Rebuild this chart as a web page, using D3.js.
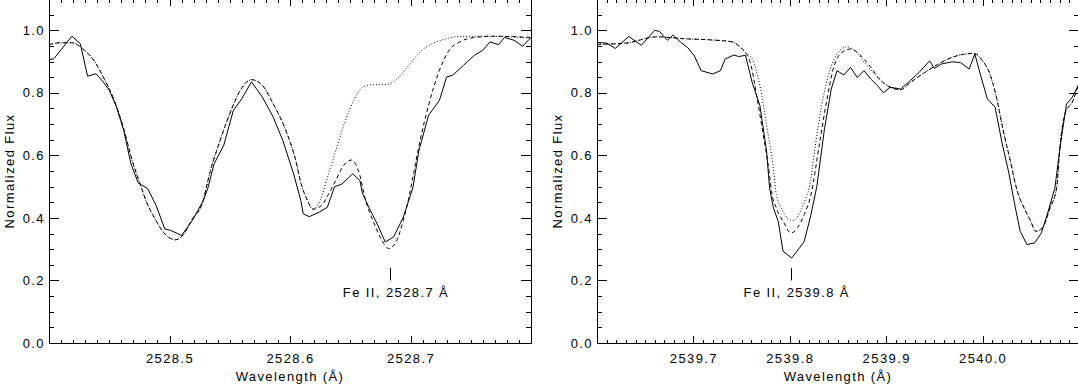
<!DOCTYPE html>
<html>
<head>
<meta charset="utf-8">
<script src="https://cdn.jsdelivr.net/npm/d3@7"></script>
<style>
  body { margin: 0; background: #fff; }
  svg text { font-family: "Liberation Sans", Arial, sans-serif; font-size: 13px; letter-spacing: 1.4px; fill: #000; }
  .axis line { stroke: #000; shape-rendering: crispEdges; }
</style>
</head>
<body>
<div id="chart"></div>
<script>
var svg_width = 1078,
    svg_height = 385,
    plot_top = -1,
    plot_bottom = 343

// observed spectrum (solid) and two model fits (dashed, dotted), [wavelength, flux]
var leftObserved = [
  [2528.400, 0.906], [2528.404, 0.909], [2528.419, 0.981], [2528.426, 0.957], [2528.432, 0.853],
  [2528.439, 0.861], [2528.445, 0.835], [2528.450, 0.808], [2528.456, 0.755], [2528.462, 0.680],
  [2528.468, 0.573], [2528.474, 0.512], [2528.482, 0.493], [2528.489, 0.439], [2528.496, 0.365],
  [2528.501, 0.360], [2528.510, 0.344], [2528.519, 0.392], [2528.528, 0.455], [2528.532, 0.497],
  [2528.537, 0.573], [2528.545, 0.632], [2528.553, 0.744], [2528.560, 0.781], [2528.568, 0.835],
  [2528.577, 0.787], [2528.586, 0.723], [2528.594, 0.648], [2528.603, 0.541], [2528.609, 0.455],
  [2528.611, 0.413], [2528.616, 0.404], [2528.624, 0.418], [2528.631, 0.434], [2528.637, 0.500],
  [2528.643, 0.508], [2528.652, 0.541], [2528.658, 0.520], [2528.660, 0.480], [2528.666, 0.429],
  [2528.673, 0.376], [2528.679, 0.323], [2528.686, 0.339], [2528.694, 0.402], [2528.702, 0.497],
  [2528.707, 0.616], [2528.715, 0.728], [2528.724, 0.776], [2528.730, 0.851], [2528.735, 0.856],
  [2528.744, 0.888], [2528.753, 0.920], [2528.760, 0.936], [2528.766, 0.963], [2528.773, 0.954],
  [2528.778, 0.977], [2528.786, 0.968], [2528.793, 0.949], [2528.800, 0.977]
]

var leftDashed = [
  [2528.400, 0.954], [2528.409, 0.960], [2528.419, 0.960], [2528.428, 0.941], [2528.438, 0.899],
  [2528.445, 0.851], [2528.453, 0.787], [2528.462, 0.685], [2528.469, 0.584], [2528.476, 0.504],
  [2528.481, 0.450], [2528.488, 0.397], [2528.495, 0.354], [2528.505, 0.330], [2528.511, 0.344],
  [2528.519, 0.397], [2528.527, 0.444], [2528.534, 0.552], [2528.542, 0.648], [2528.550, 0.733],
  [2528.558, 0.803], [2528.568, 0.842], [2528.577, 0.824], [2528.586, 0.765], [2528.596, 0.685],
  [2528.604, 0.595], [2528.610, 0.499], [2528.614, 0.460], [2528.619, 0.428], [2528.626, 0.439],
  [2528.632, 0.476], [2528.638, 0.520], [2528.644, 0.565], [2528.651, 0.585], [2528.658, 0.536],
  [2528.662, 0.467], [2528.670, 0.381], [2528.678, 0.317], [2528.682, 0.302], [2528.688, 0.323],
  [2528.694, 0.392], [2528.699, 0.471], [2528.702, 0.531], [2528.708, 0.648], [2528.715, 0.760],
  [2528.724, 0.872], [2528.732, 0.936], [2528.741, 0.963], [2528.753, 0.977], [2528.770, 0.981],
  [2528.800, 0.977]
]

var leftDotted = [
  [2528.400, 0.954], [2528.409, 0.960], [2528.419, 0.960], [2528.428, 0.941], [2528.438, 0.899],
  [2528.445, 0.851], [2528.453, 0.787], [2528.462, 0.685], [2528.469, 0.584], [2528.476, 0.504],
  [2528.481, 0.450], [2528.488, 0.397], [2528.495, 0.354], [2528.505, 0.330], [2528.511, 0.344],
  [2528.519, 0.397], [2528.527, 0.444], [2528.534, 0.552], [2528.542, 0.648], [2528.550, 0.733],
  [2528.558, 0.803], [2528.568, 0.842], [2528.577, 0.824], [2528.586, 0.765], [2528.596, 0.685],
  [2528.604, 0.595], [2528.610, 0.499], [2528.614, 0.460], [2528.619, 0.428], [2528.625, 0.456],
  [2528.632, 0.541], [2528.639, 0.627], [2528.646, 0.712], [2528.653, 0.776], [2528.660, 0.817],
  [2528.668, 0.826], [2528.678, 0.826], [2528.686, 0.835], [2528.694, 0.867], [2528.701, 0.899],
  [2528.708, 0.931], [2528.718, 0.957], [2528.727, 0.970], [2528.738, 0.979], [2528.761, 0.981],
  [2528.800, 0.975]
]

var rightObserved = [
  [2539.600, 0.961], [2539.610, 0.959], [2539.619, 0.942], [2539.633, 0.980], [2539.646, 0.952],
  [2539.660, 1.000], [2539.665, 0.996], [2539.673, 0.968], [2539.679, 0.985], [2539.687, 0.961],
  [2539.694, 0.945], [2539.701, 0.918], [2539.708, 0.871], [2539.720, 0.860], [2539.728, 0.871],
  [2539.733, 0.908], [2539.742, 0.921], [2539.747, 0.916], [2539.754, 0.920], [2539.761, 0.833],
  [2539.769, 0.759], [2539.776, 0.611], [2539.779, 0.496], [2539.783, 0.432], [2539.788, 0.389],
  [2539.793, 0.293], [2539.802, 0.272], [2539.810, 0.304], [2539.815, 0.325], [2539.822, 0.411],
  [2539.828, 0.500], [2539.836, 0.685], [2539.843, 0.812], [2539.849, 0.871], [2539.856, 0.857],
  [2539.863, 0.881], [2539.870, 0.849], [2539.877, 0.871], [2539.884, 0.844], [2539.891, 0.823],
  [2539.897, 0.800], [2539.904, 0.818], [2539.915, 0.812], [2539.925, 0.839], [2539.934, 0.865],
  [2539.945, 0.902], [2539.950, 0.878], [2539.957, 0.892], [2539.968, 0.899], [2539.977, 0.897],
  [2539.986, 0.876], [2539.992, 0.924], [2539.998, 0.855], [2540.005, 0.780], [2540.013, 0.754],
  [2540.020, 0.642], [2540.027, 0.547], [2540.034, 0.432], [2540.039, 0.357], [2540.046, 0.315],
  [2540.054, 0.320], [2540.061, 0.352], [2540.068, 0.421], [2540.075, 0.496], [2540.081, 0.640],
  [2540.087, 0.764], [2540.093, 0.786], [2540.100, 0.828]
]

var rightDashed = [
  [2539.600, 0.955], [2539.630, 0.959], [2539.662, 0.979], [2539.690, 0.973], [2539.719, 0.969],
  [2539.740, 0.963], [2539.749, 0.945], [2539.754, 0.929], [2539.760, 0.886], [2539.765, 0.802],
  [2539.772, 0.674], [2539.779, 0.536], [2539.781, 0.485], [2539.786, 0.432], [2539.794, 0.384],
  [2539.801, 0.352], [2539.808, 0.368], [2539.815, 0.411], [2539.822, 0.475], [2539.831, 0.642],
  [2539.838, 0.770], [2539.845, 0.876], [2539.854, 0.929], [2539.863, 0.940], [2539.872, 0.924],
  [2539.883, 0.886], [2539.893, 0.844], [2539.904, 0.818], [2539.915, 0.810], [2539.925, 0.833],
  [2539.940, 0.865], [2539.954, 0.892], [2539.968, 0.913], [2539.982, 0.924], [2539.991, 0.926],
  [2540.000, 0.902], [2540.007, 0.865], [2540.014, 0.791], [2540.021, 0.685], [2540.029, 0.579],
  [2540.036, 0.485], [2540.043, 0.432], [2540.050, 0.389], [2540.055, 0.357], [2540.062, 0.368],
  [2540.070, 0.432], [2540.077, 0.500], [2540.080, 0.620], [2540.086, 0.738], [2540.093, 0.770],
  [2540.100, 0.833]
]

var rightDotted = [
  [2539.600, 0.955], [2539.630, 0.959], [2539.662, 0.979], [2539.690, 0.973], [2539.719, 0.969],
  [2539.740, 0.963], [2539.749, 0.945], [2539.754, 0.929], [2539.761, 0.908], [2539.769, 0.823],
  [2539.776, 0.695], [2539.783, 0.557], [2539.786, 0.475], [2539.792, 0.427], [2539.799, 0.395],
  [2539.804, 0.392], [2539.811, 0.421], [2539.818, 0.475], [2539.820, 0.494], [2539.826, 0.621],
  [2539.833, 0.759], [2539.842, 0.876], [2539.850, 0.929], [2539.859, 0.947], [2539.868, 0.934],
  [2539.879, 0.891], [2539.893, 0.844], [2539.904, 0.818], [2539.915, 0.810], [2539.925, 0.833],
  [2539.940, 0.865], [2539.954, 0.892], [2539.968, 0.913], [2539.982, 0.924], [2539.991, 0.926],
  [2540.000, 0.902], [2540.007, 0.865], [2540.014, 0.791], [2540.021, 0.685], [2540.029, 0.579],
  [2540.036, 0.485], [2540.043, 0.432], [2540.050, 0.389], [2540.055, 0.357], [2540.062, 0.368],
  [2540.070, 0.432], [2540.077, 0.500], [2540.080, 0.620], [2540.086, 0.738], [2540.093, 0.770],
  [2540.100, 0.833]
]

var leftWaveTicks = [2528.5, 2528.6, 2528.7]
var rightWaveTicks = [2539.7, 2539.8, 2539.9, 2540.0]
var fluxTicks = [0.0, 0.2, 0.4, 0.6, 0.8, 1.0]
var lineLabels = ["Fe II, 2528.7 \u00c5", "Fe II, 2539.8 \u00c5"]
var lineCentres = [2528.683, 2539.801]

var panels = [
  { left: 49, right: 531, domain: [2528.4, 2528.8], ticks: leftWaveTicks,
    observed: leftObserved, dashed: leftDashed, dotted: leftDotted,
    centre: lineCentres[0], label: lineLabels[0] },
  { left: 597, right: 1079, domain: [2539.6, 2540.1], ticks: rightWaveTicks,
    observed: rightObserved, dashed: rightDashed, dotted: rightDotted,
    centre: lineCentres[1], label: lineLabels[1] }
]

var svg = d3.select("#chart")
            .append("svg")
            .attr("width", svg_width)
            .attr("height", svg_height)

var yScale = d3.scaleLinear()
    .domain([0, 1.1])
    .range([plot_bottom, plot_top])

var yMinor = d3.range(0, 23).map(i => i * 0.05)

panels.forEach((p, i) => {
    var xScale = d3.scaleLinear()
        .domain(p.domain)
        .range([p.left, p.right])

    var xMinor = d3.range(Math.round(p.domain[0] * 100), Math.round(p.domain[1] * 100) + 1)
        .map(v => v / 100)

    var g = svg.append('g')

    // bottom
    g.append('g').classed('axis', true)
        .attr('transform', `translate(0, ${plot_bottom})`)
        .call(d3.axisBottom(xScale).tickValues(p.ticks).tickSize(-7).tickPadding(11).tickFormat(d3.format('.1f')))
    g.append('g').classed('axis', true)
        .attr('transform', `translate(0, ${plot_bottom})`)
        .call(d3.axisBottom(xScale).tickValues(xMinor).tickSize(-3.5).tickFormat(''))
    // top
    g.append('g').classed('axis', true)
        .attr('transform', `translate(0, ${plot_top})`)
        .call(d3.axisTop(xScale).tickValues(p.ticks).tickSize(-7).tickFormat(''))
    g.append('g').classed('axis', true)
        .attr('transform', `translate(0, ${plot_top})`)
        .call(d3.axisTop(xScale).tickValues(xMinor).tickSize(-3.5).tickFormat(''))
    // left
    g.append('g').classed('axis', true)
        .attr('transform', `translate(${p.left}, 0)`)
        .call(d3.axisLeft(yScale).tickValues(fluxTicks).tickSize(-9.6).tickPadding(4).tickFormat(d3.format('.1f')))
    g.append('g').classed('axis', true)
        .attr('transform', `translate(${p.left}, 0)`)
        .call(d3.axisLeft(yScale).tickValues(yMinor).tickSize(-4.8).tickFormat(''))
    // right
    g.append('g').classed('axis', true)
        .attr('transform', `translate(${p.right}, 0)`)
        .call(d3.axisRight(yScale).tickValues(fluxTicks).tickSize(-9.6).tickFormat(''))
    g.append('g').classed('axis', true)
        .attr('transform', `translate(${p.right}, 0)`)
        .call(d3.axisRight(yScale).tickValues(yMinor).tickSize(-4.8).tickFormat(''))

    g.selectAll('.domain').remove()

    g.append('rect')
        .attr('x', p.left + 0.5)
        .attr('y', plot_top + 0.5)
        .attr('width', p.right - p.left)
        .attr('height', plot_bottom - plot_top)
        .attr('fill', 'none')
        .attr('stroke', '#000')
        .attr('shape-rendering', 'crispEdges')

    g.append('clipPath').attr('id', 'clip' + i)
        .append('rect')
        .attr('x', p.left).attr('y', plot_top)
        .attr('width', p.right - p.left).attr('height', plot_bottom - plot_top)

    var lines = g.append('g').attr('clip-path', `url(#clip${i})`)

    var line = d3.line().x(d => xScale(d[0])).y(d => yScale(d[1]))
    var smooth = d3.line().x(d => xScale(d[0])).y(d => yScale(d[1])).curve(d3.curveMonotoneX)

    lines.append('path').attr('d', smooth(p.dotted))
        .attr('fill', 'none').attr('stroke', '#000').attr('stroke-width', 1)
        .attr('stroke-dasharray', '1,2')
    lines.append('path').attr('d', smooth(p.dashed))
        .attr('fill', 'none').attr('stroke', '#000').attr('stroke-width', 1)
        .attr('stroke-dasharray', '4,3')
    lines.append('path').attr('d', line(p.observed))
        .attr('fill', 'none').attr('stroke', '#000').attr('stroke-width', 1)

    // line marker and label
    g.append('line')
        .attr('x1', Math.round(xScale(p.centre)) + 0.5).attr('x2', Math.round(xScale(p.centre)) + 0.5)
        .attr('y1', yScale(0.24)).attr('y2', yScale(0.20))
        .attr('stroke', '#000')
    g.append('text')
        .attr('x', xScale(p.centre) + 6)
        .attr('y', 297)
        .attr('text-anchor', 'middle')
        .text(p.label)

    g.append('text')
        .attr('x', (p.left + p.right) / 2)
        .attr('y', 381)
        .attr('text-anchor', 'middle')
        .text('Wavelength (\u00c5)')

    g.append('text')
        .attr('transform', `translate(${p.left - 35.5}, ${(plot_top + plot_bottom) / 2}) rotate(-90)`)
        .attr('text-anchor', 'middle')
        .text('Normalized Flux')
})
</script>
</body>
</html>
